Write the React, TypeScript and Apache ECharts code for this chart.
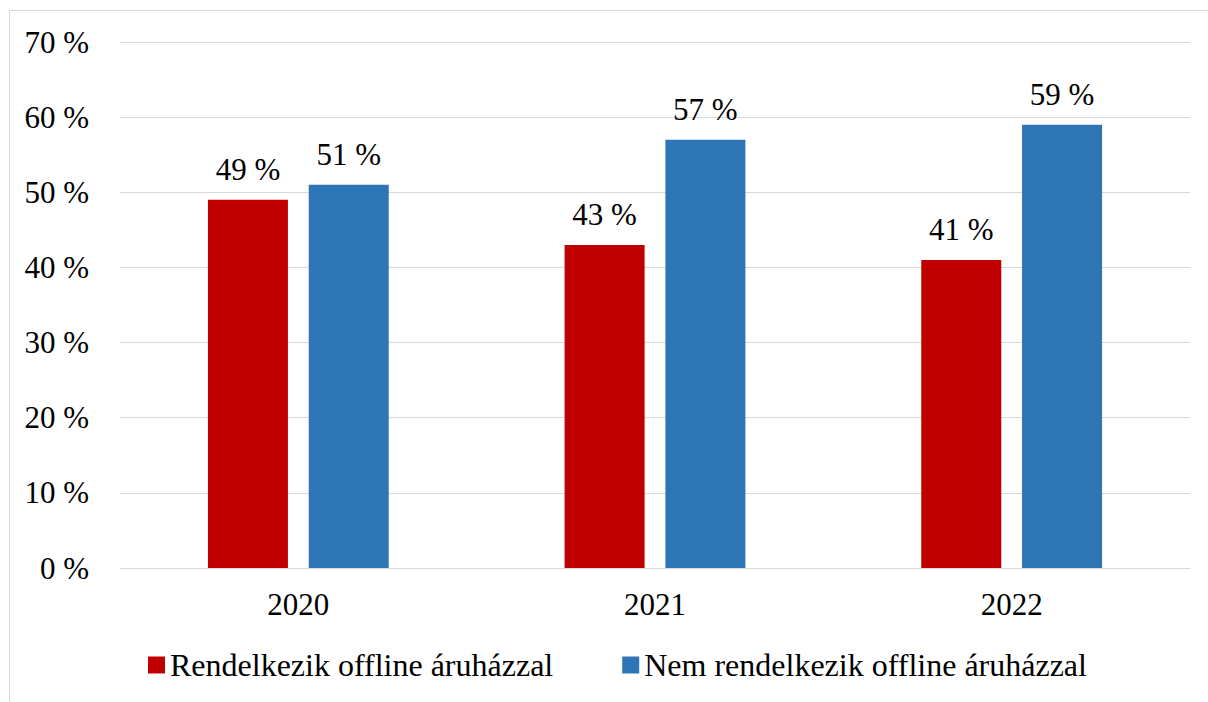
import React, { useEffect, useRef } from "react";
import * as echarts from "echarts";

const categories = ["2020", "2021", "2022"];
const seriesNames = ["Rendelkezik offline áruházzal", "Nem rendelkezik offline áruházzal"];
const offlineValues = [49, 43, 41];
const noOfflineValues = [51, 57, 59];
const yTicks = { min: 0, max: 70, interval: 10 };

const FONT = "Liberation Serif";
const FS = 31;

export default function App() {
  const ref = useRef<HTMLDivElement>(null);
  useEffect(() => {
    if (!ref.current) return;
    const chart = echarts.init(ref.current, undefined, { renderer: "svg" });
    const label = {
      show: true,
      position: "top" as const,
      distance: 15,
      fontFamily: FONT,
      fontSize: FS,
      color: "#000",
      formatter: (p: any) => `${p.value} %`,
    };
    chart.setOption({
      animation: false,
      backgroundColor: "#fff",
      textStyle: { fontFamily: FONT, fontSize: FS },
      graphic: [
        {
          type: "rect",
          shape: { x: 9.5, y: 10.5, width: 1400, height: 900 },
          style: { fill: "none", stroke: "#d9d9d9", lineWidth: 1 },
          silent: true,
        },
      ],
      grid: { left: 120, right: 18, top: 42, bottom: 134, containLabel: false },
      legend: {
        top: 644,
        left: 143,
        itemWidth: 17,
        itemHeight: 17,
        itemGap: 69,
        icon: "rect",
        textStyle: { fontFamily: FONT, fontSize: 32, color: "#000" },
        data: seriesNames,
      },
      xAxis: {
        type: "category",
        data: categories,
        axisLine: { show: true, lineStyle: { color: "#d9d9d9", width: 1 } },
        axisTick: { show: false },
        axisLabel: { fontFamily: FONT, fontSize: FS, color: "#000", margin: 21 },
      },
      yAxis: {
        type: "value",
        min: yTicks.min,
        max: yTicks.max,
        interval: yTicks.interval,
        axisLine: { show: false },
        axisTick: { show: false },
        splitLine: { lineStyle: { color: "#d9d9d9", width: 1 } },
        axisLabel: {
          fontFamily: FONT,
          fontSize: FS,
          color: "#000",
          margin: 31,
          formatter: (v: number) => `${v} %`,
        },
      },
      series: [
        {
          name: seriesNames[0],
          type: "bar",
          data: offlineValues,
          barWidth: 80,
          barGap: "26%",
          itemStyle: { color: "#C00000" },
          label,
        },
        {
          name: seriesNames[1],
          type: "bar",
          data: noOfflineValues,
          barWidth: 80,
          barGap: "26%",
          itemStyle: { color: "#2E75B6" },
          label,
        },
      ],
    });
    return () => chart.dispose();
  }, []);
  return (
    <div
      ref={ref}
      style={{ position: "absolute", left: 0, top: 0, width: 1208, height: 702 }}
    />
  );
}
